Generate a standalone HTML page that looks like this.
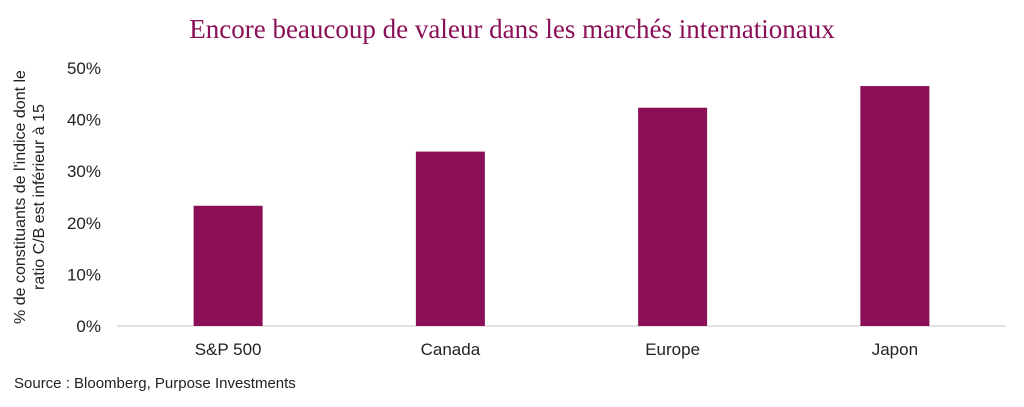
<!DOCTYPE html>
<html><head><meta charset="utf-8"><style>
body{margin:0;background:#fff;width:1024px;height:402px;overflow:hidden;font-family:"Liberation Sans",sans-serif}
</style></head><body>
<svg width="1024" height="402" xmlns="http://www.w3.org/2000/svg">
<text x="512" y="38" text-anchor="middle" font-family="Liberation Serif,serif" font-size="27" fill="#8B0F57">Encore beaucoup de valeur dans les marchés internationaux</text>
<g id="yaxis"></g>
<line x1="117" y1="326" x2="1006" y2="326" stroke="#d9d9d9" stroke-width="1.5"/>
<g id="bars"></g>
<g id="xlabels"></g>
<text transform="translate(28,197) rotate(-90)" text-anchor="middle" font-size="16" fill="#222"><tspan x="0" dy="-3">% de constituants de l'indice dont le</tspan><tspan x="0" dy="19">ratio C/B est inférieur à 15</tspan></text>
<text x="14" y="388" font-size="15" fill="#222">Source : Bloomberg, Purpose Investments</text>
</svg>
<script>
const categories=["S&P 500","Canada","Europe","Japon"];
const values=[23.3,33.8,42.3,46.5];
const tickValues=[0,10,20,30,40,50];
const tickLabels=["0%","10%","20%","30%","40%","50%"];
const NS="http://www.w3.org/2000/svg";
const x0=117,x1=1006,yBase=326,yTop=68,maxV=50;
const y=v=>yBase-(v/maxV)*(yBase-yTop);
const band=(x1-x0)/categories.length;
const xc=i=>x0+band*(i+0.5);
const yg=document.getElementById('yaxis');
tickValues.forEach((t,i)=>{
 const e=document.createElementNS(NS,'text');
 e.setAttribute('x',101);e.setAttribute('y',y(t)+6);
 e.setAttribute('text-anchor','end');e.setAttribute('font-size','17');e.setAttribute('fill','#222');
 
 
 e.textContent=tickLabels[i];yg.appendChild(e);
});
const bg=document.getElementById('bars'),xg=document.getElementById('xlabels');
categories.forEach((c,i)=>{
 const r=document.createElementNS(NS,'rect');
 const w=69;
 r.setAttribute('x',xc(i)-w/2);r.setAttribute('y',y(values[i]));
 r.setAttribute('width',w);r.setAttribute('height',yBase-y(values[i]));
 r.setAttribute('fill','#8B0F57');
 
 
 bg.appendChild(r);
 const t=document.createElementNS(NS,'text');
 t.setAttribute('x',xc(i));t.setAttribute('y',355);
 t.setAttribute('text-anchor','middle');t.setAttribute('font-size','17');t.setAttribute('fill','#222');
 
 
 t.textContent=c;xg.appendChild(t);
});
</script>
</body></html>
